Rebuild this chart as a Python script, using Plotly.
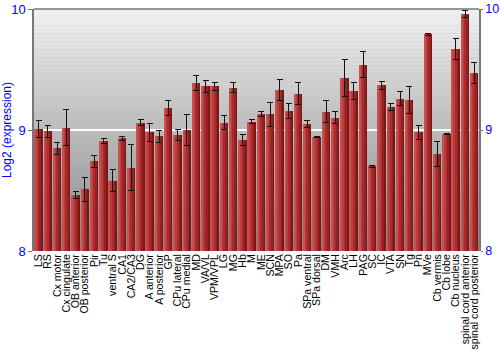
import plotly.graph_objects as go

regions = ["LS", "RS", "Cx motor", "Cx cingulate", "OB anterior", "OB posterior", "Pir", "Tu",
           "ventral S", "CA1", "CA2/CA3", "DG", "A anterior", "A posterior", "GP", "CPu lateral",
           "CPu medial", "MD", "VA/VL", "VPM/VPL", "LG", "MG", "Hb", "M", "ME", "SCN", "MPA", "SO",
           "Pa", "SPa ventral", "SPa dorsal", "DM", "VMH", "Arc", "LH", "PAG", "SC", "IC", "VTA",
           "SN", "Tg", "Pn", "MVe", "Cb vermis", "Cb lobe", "Cb nucleus", "spinal cord anterior",
           "spinal cord posterior"]
expression = [9.01, 8.99, 8.85, 9.02, 8.46, 8.51, 8.74, 8.91,
              8.58, 8.93, 8.69, 9.06, 8.98, 8.95, 9.18, 8.96,
              9.00, 9.39, 9.36, 9.36, 9.06, 9.35, 8.92, 9.07, 9.13, 9.13, 9.33, 9.16,
              9.30, 9.05, 8.94, 9.15, 9.10, 9.43, 9.32, 9.54, 8.70, 9.37, 9.19,
              9.26, 9.25, 8.98, 9.79, 8.80, 8.97, 9.67, 9.96,
              9.47]
errors = [0.07, 0.05, 0.05, 0.15, 0.03, 0.10, 0.05, 0.02,
          0.09, 0.02, 0.19, 0.025, 0.075, 0.05, 0.06, 0.045,
          0.125, 0.063, 0.05, 0.035, 0.056, 0.04, 0.045, 0.02, 0.02, 0.10, 0.087, 0.063,
          0.09, 0.03, 0.005, 0.09, 0.05, 0.15, 0.07, 0.11, 0.01, 0.035, 0.03,
          0.058, 0.11, 0.055, 0.005, 0.105, 0.005, 0.088, 0.03,
          0.087]
y_ticks = [8, 9, 10]

fig = go.Figure()
base_val = 8
heights = [v - base_val for v in expression]

# horizontal gradient look of bars via overlaid layers
layers = [
    (0.86, -0.43, "#7a1717"),
    (0.70, -0.43, "#952222"),
    (0.52, -0.43, "#ab2c2c"),
    (0.30, -0.41, "#bd3c3c"),
    (0.10, -0.42, "#c85050"),
]
for w, off, col in layers:
    fig.add_trace(go.Bar(x=regions, y=heights, base=base_val, width=w, offset=off,
                         marker=dict(color=col, line=dict(width=0)),
                         hoverinfo="skip", showlegend=False))
fig.add_trace(go.Bar(x=regions, y=heights, base=base_val, width=0.86, offset=-0.43,
                     marker=dict(color="rgba(0,0,0,0)", line=dict(width=0)),
                     error_y=dict(type="data", array=errors, color="#111111", thickness=1, width=3),
                     showlegend=False))
# right axis companion trace
fig.add_trace(go.Scatter(x=[regions[0]], y=[9], yaxis="y2", mode="markers",
                         marker=dict(opacity=0), hoverinfo="skip", showlegend=False))

# vertical gray gradient background
shapes = []
n = 60
for i in range(n):
    t = i / (n - 1)
    c = int(round(0x86 + (0xf0 - 0x86) * t))
    shapes.append(dict(type="rect", xref="paper", yref="paper", x0=0, x1=1,
                       y0=i / n, y1=(i + 1) / n, fillcolor=f"rgb({c},{c},{c})",
                       line=dict(width=0), layer="below"))
shapes.append(dict(type="line", xref="paper", yref="paper", x0=0, x1=1, y0=1, y1=1,
                   line=dict(color="#777777", width=1.5), layer="above"))

fig.update_layout(
    width=500, height=350,
    margin=dict(l=34, r=21, t=9, b=99, autoexpand=False),
    paper_bgcolor="white", plot_bgcolor="#bbbbbb",
    barmode="overlay", bargap=0,
    font=dict(family="Liberation Sans, Arial, sans-serif"),
    shapes=shapes,
    xaxis=dict(tickangle=-90, tickfont=dict(size=10.6, color="black"), showgrid=False,
               tickmode="array", tickvals=regions, ticktext=regions, automargin=False,
               ticks="", showline=False, range=[-0.5, len(regions) - 0.5], fixedrange=True),
    yaxis=dict(range=[8, 10], tickvals=y_ticks, tickfont=dict(size=13, color="blue"),
               title=dict(text="Log2 (expression)", font=dict(size=12, color="blue"), standoff=4),
               showgrid=True, gridcolor="white", gridwidth=1.5, zeroline=False, automargin=False,
               showline=True, linecolor="#777777", linewidth=1.5,
               ticks="outside", ticklen=4, tickcolor="#777777"),
    yaxis2=dict(range=[8, 10], tickvals=y_ticks, overlaying="y", side="right", automargin=False,
                tickfont=dict(size=12.5, color="blue"), showgrid=False, zeroline=False,
                showline=True, linecolor="#777777", linewidth=1.5,
                ticks="outside", ticklen=2, tickcolor="#777777"),
)

fig.write_html("out.html")
